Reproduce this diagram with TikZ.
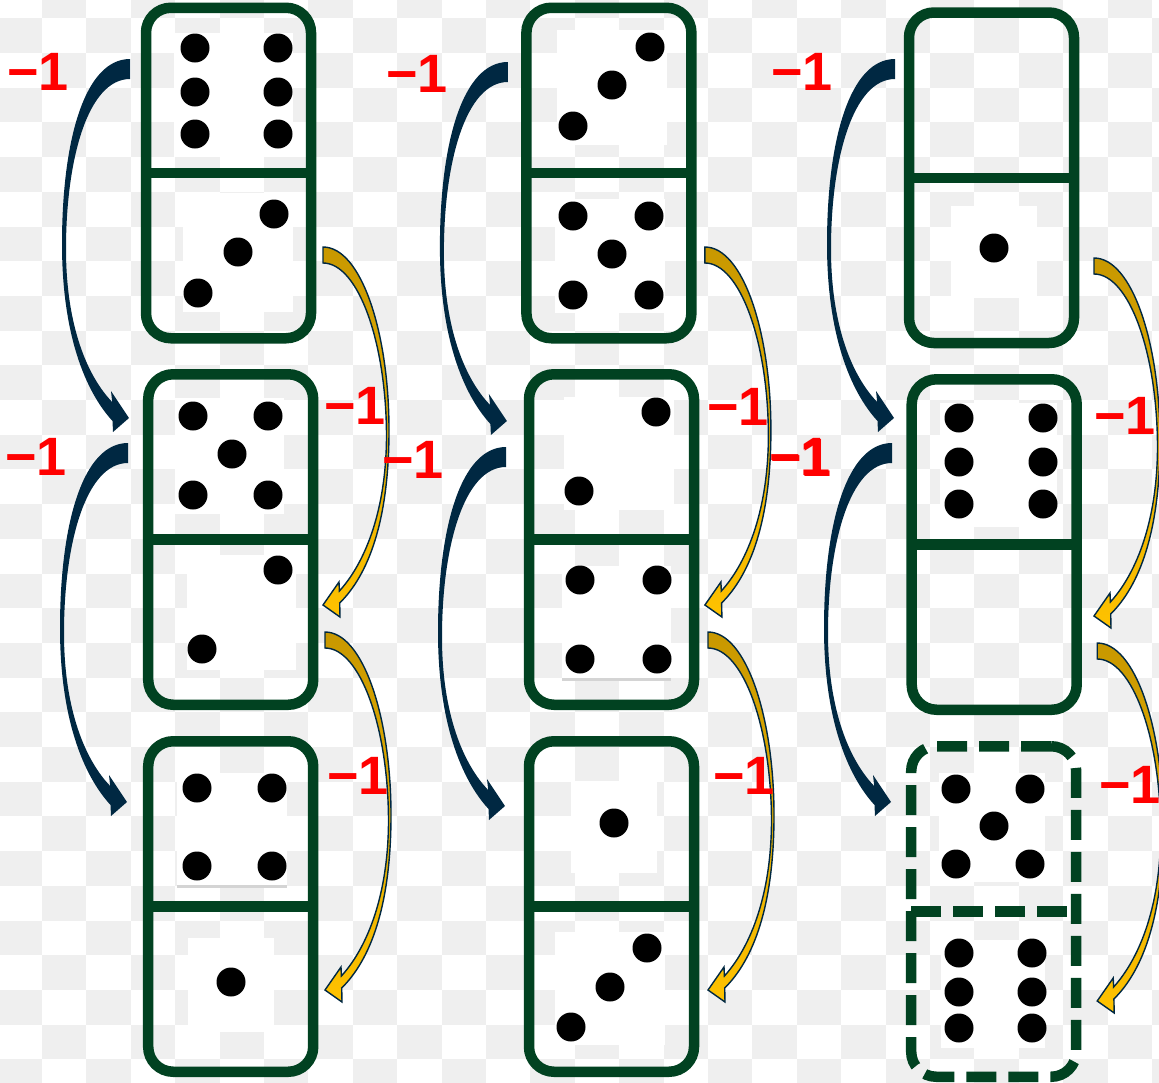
\documentclass[tikz,border=0pt]{standalone}
\usepackage{fontspec}
\setmainfont{Liberation Sans}
\usetikzlibrary{calc}
\definecolor{dgreen}{RGB}{1,66,33}
\definecolor{navy}{RGB}{0,40,66}
\definecolor{gdark}{RGB}{200,152,0}
\definecolor{gbright}{RGB}{255,194,0}
\definecolor{chk}{RGB}{239,239,239}
\definecolor{lblred}{RGB}{255,0,0}
\definecolor{pipline}{RGB}{212,212,212}
\tikzset{
  navyarrow/.pic={
    \fill[navy] (0,0) .. controls (-45,0) and (-68,80) .. (-68,185)
      .. controls (-68,275) and (-45,332) .. (-17.5,362)
      -- (-17,373) -- (-1,359) -- (-19,332) -- (-17.8,343)
      .. controls (-42,318) and (-64,268) .. (-64,190)
      .. controls (-64,100) and (-42,20) .. (0,20) -- cycle;
  },
  goldarrow/.pic={
    \shadedraw[top color=gdark, bottom color=gbright, draw=navy, line width=1.4pt, line join=miter]
      (0,0) .. controls (38,0) and (66,85) .. (66,183)
      .. controls (66,275) and (45,328) .. (16.7,356)
      -- (17,370) -- (0,358) -- (16,335) -- (16.4,344)
      .. controls (40,318) and (63,268) .. (63.5,190)
      .. controls (63.5,95) and (35,16) .. (0,16) -- cycle;
  },
}
\begin{document}
\begin{tikzpicture}[x=1pt,y=-1pt,
  dom/.style={draw=dgreen, line width=10.5pt, rectangle, rounded corners=25pt,
    minimum width=165pt, minimum height=330.5pt, inner sep=0pt, outer sep=0pt},
  domdash/.style={dom, dash pattern=on 30pt off 12pt},
  divider/.style={draw=dgreen, line width=10.5pt},
  pipbg/.style={fill=white},
  pip/.style={fill=black},
  lbl/.style={text=lblred, font=\bfseries\fontsize{54}{54}\selectfont, inner sep=0pt}]
\path[use as bounding box] (0,0) rectangle (1159,1082);
\begin{scope}
\clip (0,0) rectangle (1159,1082);
\fill[white] (0,0) rectangle (1159,1082);
\foreach \c in {-1,...,25}{
  \foreach \r in {-1,...,30}{
    \pgfmathtruncatemacro\chkp{mod(\c+\r+40,2)}
    \ifnum\chkp=1 \fill[chk] ({42+44.4*\c},{18.3+34.7*\r}) rectangle ++(44.4,34.7); \fi
  }
}
% pip backgrounds
\fill[pipbg] (174,33) rectangle (293,157);
\fill[pipbg] (183,193) rectangle (293,312);
\fill[pipbg] (175,398) rectangle (284,514);
\fill[pipbg] (187,555) rectangle (296,670);
\fill[pipbg] (177,773) rectangle (287,887);
\fill[pipbg] (188,938) rectangle (274,1032);
\fill[pipbg] (557,30) rectangle (667,145);
\fill[pipbg] (555,199) rectangle (665,313);
\fill[pipbg] (564,397) rectangle (674,510);
\fill[pipbg] (562,566) rectangle (671,678);
\fill[pipbg] (571,781) rectangle (657,873);
\fill[pipbg] (555,932) rectangle (665,1045);
\fill[pipbg] (951,206) rectangle (1037,298);
\fill[pipbg] (940,403) rectangle (1057,527);
\fill[pipbg] (939,773) rectangle (1045,882);
\fill[pipbg] (941,940) rectangle (1045,1048);
\fill[pipline] (177,884.5) rectangle (287,887.5);
\fill[pipline] (562,677.5) rectangle (671,680.5);
% pips
\foreach \p in {(195,48),(278,48),(195,92),(278,92),(195,134),(278,134),
  (274,214),(238,252),(198,293),
  (193,416),(268,416),(232,454),(193,495),(268,495),
  (278,570),(202,649),
  (197,788),(272,788),(197,866),(272,866),
  (231,982),
  (650,47),(612,85),(573,126),
  (573,216),(649,216),(612,254),(573,295),(649,295),
  (656,412),(579,491),
  (580,580),(657,580),(580,659),(657,659),
  (614,823),
  (647,948),(610,987),(571,1027),
  (994,248),
  (959,418),(1043,418),(959,462),(1043,462),(959,504),(1043,504),
  (956,789),(1030,789),(994,826),(956,864),(1030,864),
  (959,953),(1032,953),(959,992),(1032,992),(959,1028),(1032,1028)}
  \fill[pip] \p circle (14.5);
% dominoes
\node[dom] (d11) at (228.5,173) {};
\node[dom] (d12) at (230.7,539.5) {};
\node[dom] (d13) at (230.7,906.5) {};
\node[dom] (d21) at (608.9,173) {};
\node[dom] (d22) at (611.5,539.5) {};
\node[dom] (d23) at (611.5,906.5) {};
\node[dom] (d31) at (991.5,177.75) {};
\node[dom] (d32) at (994.2,544.5) {};
\node[domdash] (d33) at (993.7,911.5) {};
\foreach \d in {d11,d12,d13,d21,d22,d23,d31,d32}
  \draw[divider] (\d.west) -- (\d.east);
\draw[divider, dash pattern=on 30pt off 12pt] (d33.west) -- ($(d33.east)+(-6,0)$);
% navy arrows (left side)
\pic at ($(d11.west)+(-16,-114)$) {navyarrow};
\pic at ($(d12.west)+(-20.2,-96.5)$) {navyarrow};
\pic at ($(d21.west)+(-18.5,-111)$) {navyarrow};
\pic at ($(d22.west)+(-23,-92.5)$) {navyarrow};
\pic at ($(d31.west)+(-14,-118.75)$) {navyarrow};
\pic at ($(d32.west)+(-19.7,-101.5)$) {navyarrow};
% gold arrows (right side)
\pic at ($(d11.east)+(12,74)$) {goldarrow};
\pic at ($(d12.east)+(11.8,92.5)$) {goldarrow};
\pic at ($(d21.east)+(13.5,74)$) {goldarrow};
\pic at ($(d22.east)+(14,92.5)$) {goldarrow};
\pic at ($(d31.east)+(20,80.25)$) {goldarrow};
\pic at ($(d32.east)+(20.5,98.5)$) {goldarrow};
% labels
\node[lbl] (m1) at (38,72) {−1};
\node[lbl] (m2) at (36,457) {−1};
\node[lbl] (m3) at (355,406) {−1};
\node[lbl] (m4) at (413,460) {−1};
\node[lbl] (m5) at (358,776) {−1};
\node[lbl] (m6) at (417,74) {−1};
\node[lbl] (m7) at (738,407) {−1};
\node[lbl] (m8) at (801,458) {−1};
\node[lbl] (m9) at (744,776) {−1};
\node[lbl] (m10) at (802,72) {−1};
\node[lbl] (m11) at (1125,416) {−1};
\node[lbl] (m12) at (800,457) {−1};
\node[lbl] (m13) at (1130,785) {−1};
\end{scope}
\end{tikzpicture}
\end{document}
